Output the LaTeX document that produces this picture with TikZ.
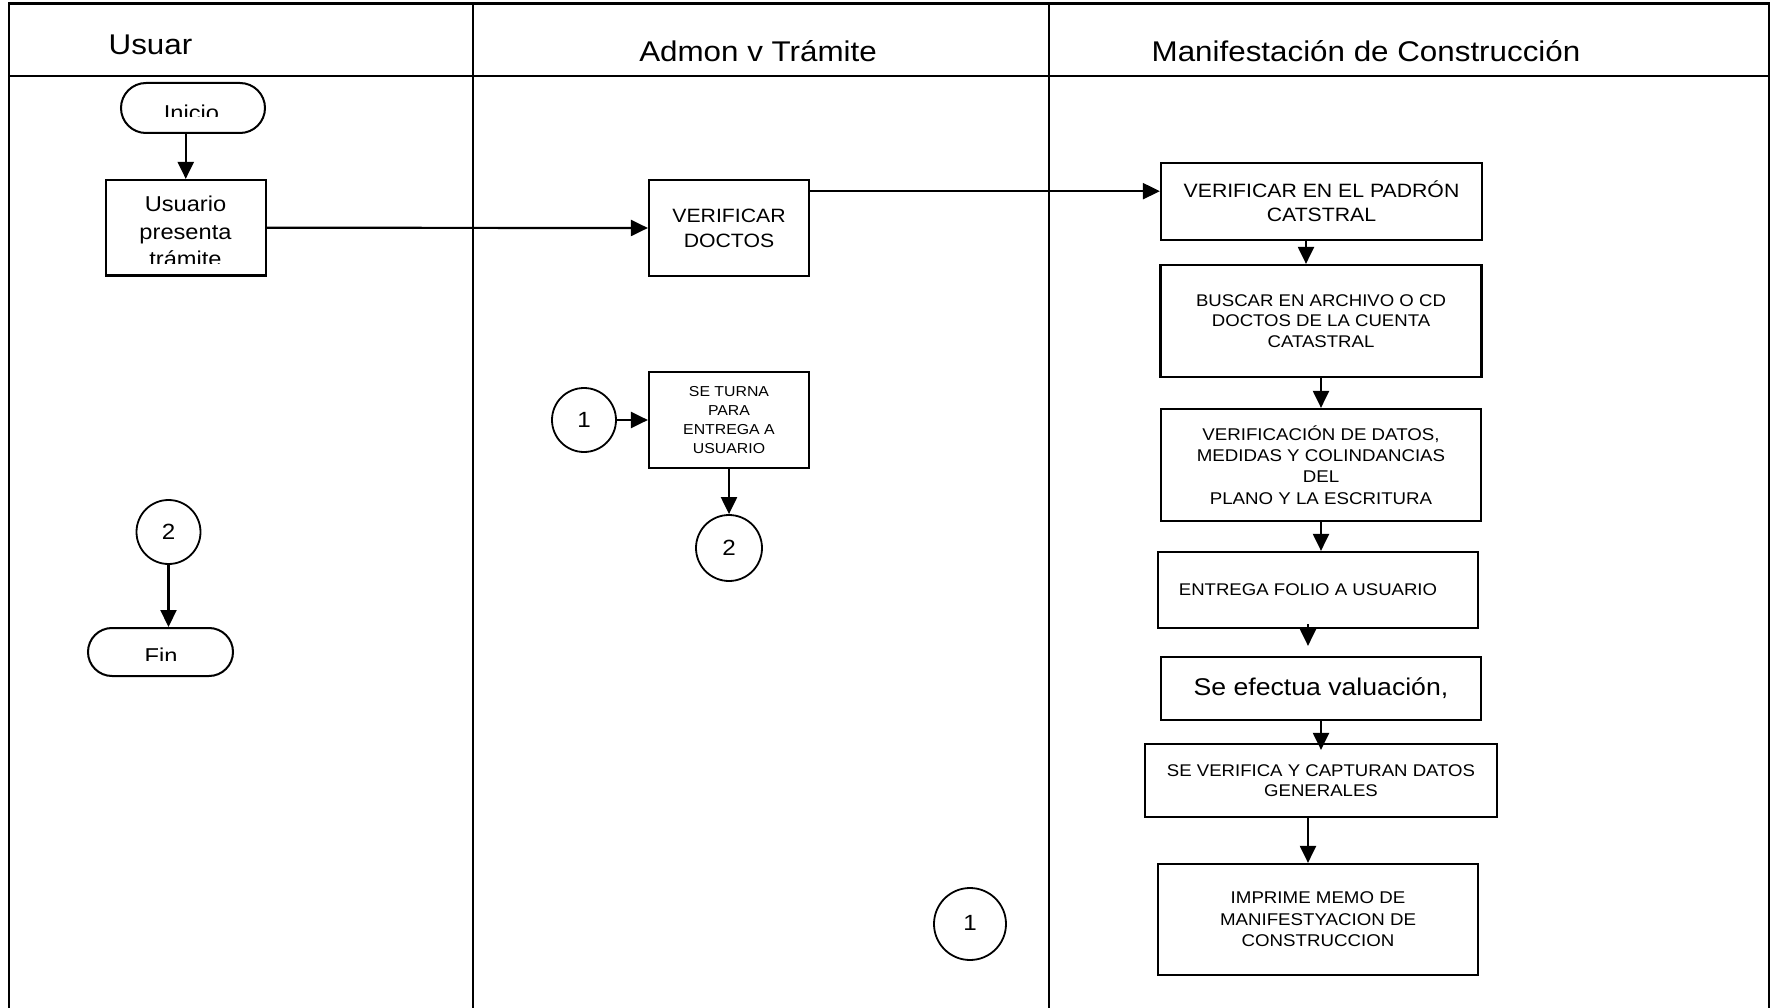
\documentclass[tikz,border=0pt]{standalone}
\usepackage{fontspec}
\setmainfont{Liberation Sans}[FakeStretch=1.1]
\usetikzlibrary{arrows.meta,calc}
\newcommand\fsz[2]{\fontsize{#1}{#2}\selectfont}
\begin{document}
\begin{tikzpicture}[x=1pt,y=-1pt,
  box/.style={draw, line width=2.2pt, inner sep=0pt, align=center},
  arr/.style={line width=2.2pt, -{Triangle[length=17pt,width=16pt]}},
  conn/.style={draw, circle, line width=1.8pt, inner sep=0pt, font=\fsz{22}{26}},
  stad/.style={draw, line width=2pt, inner sep=0pt},
  lane/.style={line width=2pt},
  hdr/.style={anchor=base, inner sep=0pt, font=\fsz{28.5}{34}},
]
\useasboundingbox (0,0) rectangle (1773,1008);
\fill[white] (0,0) rectangle (1773,1008);
% frame and lanes
\draw[line width=3pt] (8,4) -- (1770,4);
\draw[lane] (9,4) -- (9,1012);
\draw[lane] (1769,4) -- (1769,1012);
\draw[line width=2.4pt] (9,76) -- (1769,76);
\draw[lane] (473,4) -- (473,1012);
\draw[lane] (1049,4) -- (1049,1012);
% headers
\node[hdr] (h1) at (150.5,55) {Usuar};
\node[hdr] (h2) at (758,62) {Admon v Trámite};
\node[hdr] (h3) at (1366,62) {Manifestación de Construcción};
% Usuario lane
\node[stad, rounded corners=25pt, minimum width=144pt, minimum height=50pt] (inicio) at (193,108) {};
\begin{scope}
  \clip (121,83) rectangle (265,117);
  \node[anchor=base, inner sep=0pt, font=\fsz{21.5}{26}] (tinicio) at (191.5,120.4) {Inicio};
\end{scope}
\node[box, minimum width=160pt, minimum height=95.5pt] (usuario) at (185.75,227.75) {};
\begin{scope}
  \clip (107,182) rectangle (265,264);
  \node[inner sep=0pt, align=center, font=\fsz{21.5}{27.5}] (tusuario) at (185.5,231.8) {Usuario\\presenta\\trámite};
\end{scope}
\draw[arr] (inicio.south -| usuario.north) -- (usuario.north);
\node[conn, minimum size=64pt] (c2b) at (168.5,532) {\raisebox{-4pt}{2}};
\node[stad, rounded corners=24pt, minimum width=145pt, minimum height=48pt] (fin) at (160.5,652) {};
\begin{scope}
  \clip (88,628) rectangle (233,660.5);
  \node[anchor=base, inner sep=0pt, font=\fsz{21.5}{26}] (tfin) at (161,663.4) {Fin};
\end{scope}
\draw[arr] (c2b.south) -- (c2b.south |- fin.north);
% Admon lane
\node[box, minimum width=160pt, minimum height=96pt, font=\fsz{19.3}{25}] (vdoctos) at (729,228) {VERIFICAR\\DOCTOS};
\draw[arr] (usuario.east) -- (vdoctos.west);
\node[conn, minimum size=64pt] (c1a) at (584,420) {\raisebox{-4pt}{1}};
\node[box, minimum width=160pt, minimum height=96pt, font=\fsz{14.4}{18.7}] (seturna) at (729,420) {SE TURNA\\PARA\\ENTREGA A\\USUARIO};
\draw[arr] (c1a.east) -- (seturna.west);
\node[conn, minimum size=66pt] (c2a) at (729,548) {\raisebox{-2pt}{2}};
\draw[arr] (seturna.south) -- (c2a.north);
\node[conn, minimum size=72pt] (c1b) at (970,924) {\raisebox{2pt}{1}};
% Manifestacion lane
\node[box, minimum width=321pt, minimum height=77pt, font=\fsz{19.3}{24}] (padron) at (1321.5,201.5) {VERIFICAR EN EL PADRÓN\\CATSTRAL};
\coordinate (c1) at ($(vdoctos.north east)!0.125!(vdoctos.south east)$);
\draw[arr] (c1) -- (c1 -| padron.west);
\node[box, minimum width=321pt, minimum height=112pt, font=\fsz{16.9}{20.5}] (buscar) at (1321,321) {BUSCAR EN ARCHIVO O CD\\DOCTOS DE LA CUENTA\\CATASTRAL};
\draw[arr] ([xshift=-15.5pt]padron.south) -- ([xshift=-15.5pt]padron.south |- buscar.north);
\node[box, minimum width=320pt, minimum height=112pt, font=\fsz{17}{21.3}] (verif) at (1321,465) {VERIFICACIÓN DE DATOS,\\MEDIDAS Y COLINDANCIAS\\DEL\\PLANO Y LA ESCRITURA};
\draw[arr] (buscar.south) -- (verif.north);
\node[box, minimum width=320pt, minimum height=76pt, font=\fsz{16.9}{20}] (entrega) at (1318,590) {ENTREGA FOLIO A USUARIO\rule{20pt}{0pt}};
\draw[arr] (verif.south) -- (verif.south |- entrega.north);
\node[box, minimum width=320pt, minimum height=63pt, font=\fsz{24.2}{29}] (seef) at (1321,688.5) {Se efectua valuación,};
\draw[arr, shorten <=-5pt, shorten >=10pt] ([xshift=-10pt]entrega.south) -- ([xshift=-10pt]entrega.south |- seef.north);
\node[box, minimum width=352pt, minimum height=73pt, font=\fsz{16.9}{20}] (sever) at (1321,780.5) {SE VERIFICA Y CAPTURAN DATOS\\GENERALES};
\draw[arr, shorten >=-7pt] (seef.south) -- (sever.north);
\node[box, minimum width=320pt, minimum height=111pt, font=\fsz{17}{21.5}] (imprime) at (1318,919.5) {IMPRIME MEMO DE\\MANIFESTYACION DE\\CONSTRUCCION};
\draw[arr] ([xshift=-13pt]sever.south) -- ([xshift=-13pt]sever.south |- imprime.north);
\end{tikzpicture}
\end{document}
